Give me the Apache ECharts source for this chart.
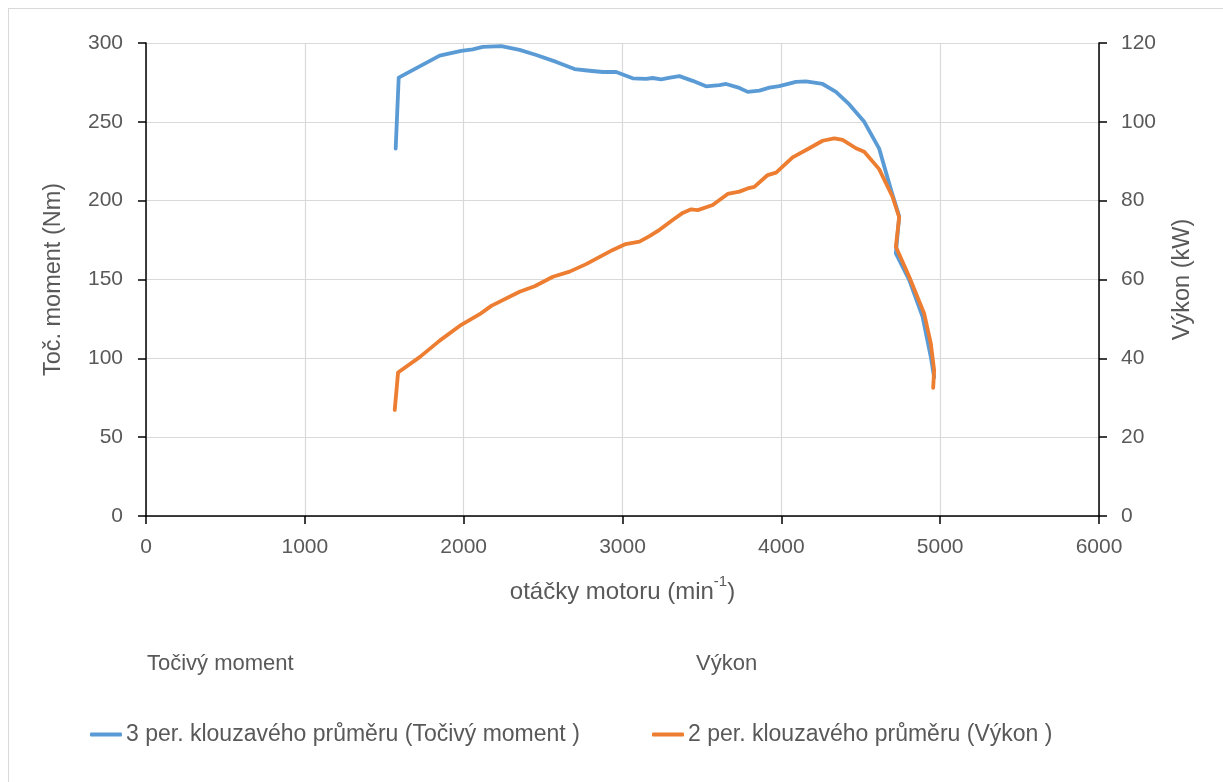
<!DOCTYPE html>
<html>
<head>
<meta charset="utf-8">
<script src="https://cdn.jsdelivr.net/npm/echarts@6/dist/echarts.min.js"></script>
<style>
html,body{margin:0;padding:0;background:#fff;}
#chart{width:1223px;height:782px;position:absolute;left:0;top:0;}
#frame{position:absolute;left:8px;top:8px;width:1300px;height:900px;border:1px solid #d9d9d9;pointer-events:none;}
</style>
</head>
<body>
<div id="chart"></div>
<div id="frame"></div>
<script>
// ---- data ----
const torqueRpm = [1572, 1591, 1720, 1849, 1985, 2057, 2120, 2237, 2352, 2457, 2583, 2698, 2792, 2876, 2960, 3064, 3149, 3190, 3243, 3300, 3358, 3442, 3526, 3610, 3652, 3736, 3788, 3862, 3925, 3987, 4092, 4155, 4260, 4344, 4428, 4522, 4616, 4690, 4742, 4721, 4805, 4889, 4941, 4962];
const torque = [233, 278, 285, 292, 295, 296, 297.5, 298, 295.6, 292.4, 288, 283.5, 282.4, 281.6, 281.6, 277.6, 277.2, 277.8, 277, 278, 279, 276, 272.5, 273.3, 274, 271.5, 269, 269.8, 271.7, 272.7, 275.4, 275.6, 274, 269, 261, 250, 233, 207, 190, 166.6, 149.7, 126.4, 101, 88];
const powerRpm = [1566, 1587, 1723, 1849, 1985, 2101, 2174, 2352, 2447, 2562, 2667, 2771, 2939, 3020, 3107, 3170, 3233, 3316, 3379, 3432, 3474, 3568, 3662, 3736, 3788, 3830, 3914, 3967, 4071, 4176, 4260, 4333, 4386, 4470, 4522, 4616, 4700, 4742, 4721, 4805, 4899, 4941, 4962, 4956];
const power = [26.9, 36.4, 40.3, 44.5, 48.5, 51.2, 53.3, 56.9, 58.3, 60.7, 62, 63.9, 67.5, 69, 69.6, 71, 72.6, 75.1, 76.9, 77.8, 77.6, 78.9, 81.7, 82.3, 83.1, 83.5, 86.5, 87.1, 91, 93.3, 95.2, 95.8, 95.4, 93.3, 92.4, 88, 81, 75.8, 68.3, 60.7, 51.4, 43.8, 37, 32.5];
const seriesNames = ['Točivý moment', 'Výkon'];
const trendNames = ['3 per. klouzavého průměru (Točivý moment )', '2 per. klouzavého průměru (Výkon )'];
const xAxisTitle = 'otáčky motoru (min';
const yLeftTitle = 'Toč. moment (Nm)';
const yRightTitle = 'Výkon (kW)';

const FONT = 'Liberation Sans';
const TXT = '#595959';
const BLUE = '#5B9BD5';
const ORANGE = '#ED7D31';

const chart = echarts.init(document.getElementById('chart'), null, {renderer: 'canvas'});

function legendBox(name, left, top, icon, size) {
  return {
    data: [name], left: left, top: top, orient: 'horizontal',
    icon: icon, itemWidth: icon === 'none' ? 0 : 32, itemHeight: 4, itemGap: 5,
    padding: 0, selectedMode: false,
    textStyle: {color: TXT, fontSize: size, fontFamily: FONT, padding: [0,0,0,-1]}
  };
}

chart.setOption({
  animation: false,
  backgroundColor: '#fff',
  grid: {left: 146, right: 124, top: 43, bottom: 266, containLabel: false},
  legend: [
    legendBox(seriesNames[0], 143, 653, 'none', 22),
    legendBox(seriesNames[1], 692, 653, 'none', 22),
    legendBox(trendNames[0], 90, 723, 'roundRect', 23),
    legendBox(trendNames[1], 652, 723, 'roundRect', 23)
  ],
  xAxis: {
    type: 'value', min: 0, max: 6000, interval: 1000,
    name: '{a|' + xAxisTitle + '}{s|-1}{a|)}',
    nameLocation: 'middle', nameGap: 58,
    nameTextStyle: {
      rich: {
        a: {color: TXT, fontSize: 24, fontFamily: FONT, lineHeight: 30, verticalAlign: 'bottom'},
        s: {color: TXT, fontSize: 15, fontFamily: FONT, lineHeight: 30, verticalAlign: 'top'}
      }
    },
    axisLine: {show: true, onZero: false, lineStyle: {color: '#000', width: 1.5}},
    axisTick: {show: true, length: 8, lineStyle: {color: '#000', width: 1.5}},
    axisLabel: {color: TXT, fontSize: 21, fontFamily: FONT, margin: 21, formatter: v => String(v)},
    splitLine: {show: true, lineStyle: {color: '#d9d9d9', width: 1.2}}
  },
  yAxis: [
    {
      type: 'value', min: 0, max: 300, interval: 50, position: 'left',
      name: yLeftTitle, nameLocation: 'middle', nameGap: 80, nameRotate: 90,
      nameTextStyle: {color: TXT, fontSize: 23.5, fontFamily: FONT},
      axisLine: {show: true, lineStyle: {color: '#000', width: 1.5}},
      axisTick: {show: true, length: 8, lineStyle: {color: '#000', width: 1.5}},
      axisLabel: {color: TXT, fontSize: 21, fontFamily: FONT, margin: 23},
      splitLine: {show: true, lineStyle: {color: '#d9d9d9', width: 1.2}}
    },
    {
      type: 'value', min: 0, max: 120, interval: 20, position: 'right',
      name: yRightTitle, nameLocation: 'middle', nameGap: 72, nameRotate: 90,
      nameTextStyle: {color: TXT, fontSize: 23.5, fontFamily: FONT},
      axisLine: {show: true, lineStyle: {color: '#000', width: 1.5}},
      axisTick: {show: true, length: 8, lineStyle: {color: '#000', width: 1.5}},
      axisLabel: {color: TXT, fontSize: 21, fontFamily: FONT, margin: 22},
      splitLine: {show: false}
    }
  ],
  series: [
    {name: seriesNames[0], type: 'line', yAxisIndex: 0, data: [], color: BLUE, showSymbol: false},
    {name: seriesNames[1], type: 'line', yAxisIndex: 1, data: [], color: ORANGE, showSymbol: false},
    {
      name: trendNames[0], type: 'line', yAxisIndex: 0, color: BLUE,
      data: torqueRpm.map((r, i) => [r, torque[i]]),
      showSymbol: false, smooth: false,
      lineStyle: {width: 3.8, color: BLUE, cap: 'round', join: 'round'}
    },
    {
      name: trendNames[1], type: 'line', yAxisIndex: 1, color: ORANGE,
      data: powerRpm.map((r, i) => [r, power[i]]),
      showSymbol: false, smooth: false,
      lineStyle: {width: 3.8, color: ORANGE, cap: 'round', join: 'round'}
    }
  ]
});
</script>
</body>
</html>
